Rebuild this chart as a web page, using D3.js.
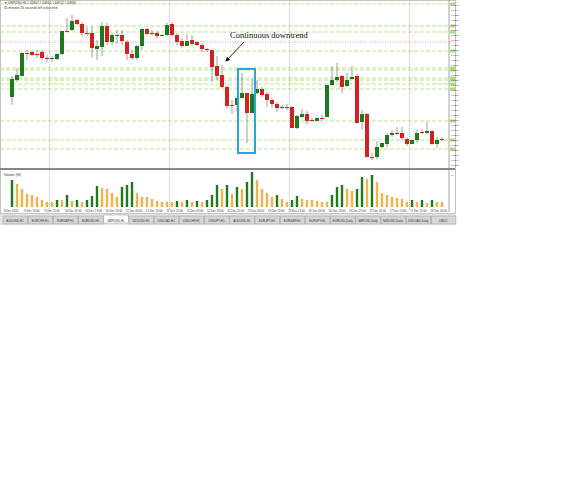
<!DOCTYPE html>
<html><head><meta charset="utf-8">
<script src="https://cdn.jsdelivr.net/npm/d3@7"></script>
<style>body{margin:0;background:#fff}</style></head>
<body><svg id="c" width="569" height="500"></svg>
<script>
const O=[6303,6320,6324,6347,6348,6346,6348,6342,6342,6341,6346,6369,6370,6380,6376,6367,6367,6351,6353,6374,6358,6365,6365,6358,6346,6342,6354,6371,6367,6367,6365,6365,6376,6365,6359,6354,6360,6358,6355,6351,6350,6334,6325,6313,6295,6295,6302,6307,6287,6307,6311,6306,6300,6296,6293,6293,6293,6272,6283,6286,6280,6279,6282,6283,6315,6320,6324,6314,6321,6324,6278,6286,6243,6243,6253,6256,6265,6267,6267,6261,6256,6260,6268,6267,6269,6256,6261];
const H=[6324,6332,6348,6350,6349,6350,6350,6345,6344,6347,6369,6382,6385,6381,6378,6373,6374,6360,6378,6377,6367,6370,6370,6360,6350,6355,6372,6372,6370,6369,6366,6377,6378,6367,6362,6366,6365,6359,6357,6352,6350,6344,6335,6314,6300,6303,6327,6307,6322,6320,6313,6308,6302,6298,6295,6296,6294,6285,6291,6289,6282,6282,6285,6315,6334,6337,6325,6327,6334,6326,6290,6287,6247,6259,6257,6267,6270,6273,6273,6263,6260,6270,6270,6278,6270,6263,6263];
const L=[6295,6318,6324,6340,6344,6342,6340,6338,6338,6340,6345,6368,6369,6375,6364,6364,6342,6340,6344,6355,6355,6356,6355,6340,6340,6340,6350,6365,6364,6362,6364,6364,6364,6355,6352,6354,6354,6354,6348,6348,6318,6320,6312,6292,6286,6288,6301,6257,6287,6306,6303,6293,6292,6288,6291,6290,6272,6271,6282,6276,6278,6279,6279,6283,6314,6318,6307,6313,6320,6277,6270,6243,6240,6241,6252,6253,6263,6265,6260,6254,6256,6257,6266,6266,6255,6252,6259];
const C=[6321,6325,6347,6346,6345,6345,6342,6341,6342,6346,6369,6368,6379,6376,6367,6366,6352,6354,6374,6358,6365,6364,6359,6346,6342,6354,6371,6366,6366,6364,6364,6375,6365,6358,6354,6359,6356,6355,6351,6350,6333,6324,6313,6294,6294,6302,6307,6287,6306,6311,6305,6300,6296,6292,6292,6293,6272,6284,6286,6279,6279,6282,6281,6315,6320,6323,6313,6320,6323,6277,6286,6243,6242,6253,6257,6265,6267,6266,6262,6256,6260,6267,6267,6269,6256,6260,6261];
const volume=[27,23,18,13,12,10,7,5,5,7,7,12,6,7,5,7,11,21,19,18,14,10,20,22,25,14,10,10,8,6,5,5,5,6,5,7,5,6,5,7,12,22,18,22,13,20,18,25,35,27,18,14,10,12,8,5,7,11,8,7,7,6,5,5,12,20,22,18,16,18,30,28,32,25,14,12,10,9,8,5,7,5,7,4,7,5,5];
const greenLevels=[1.6396,1.6374,1.6368,1.6349,1.6332,1.6330,1.6322,1.6320,1.6316,1.6311,1.6279,1.6260,1.6251];
const redLevels=[1.6358];
const separators=[8,32,56,80];
const timeLabels=["8 Dec 2013","9 Dec 13:00","9 Dec 21:00","10 Dec 05:00","10 Dec 13:00","10 Dec 21:00","11 Dec 05:00","11 Dec 13:00","11 Dec 21:00","12 Dec 05:00","12 Dec 13:00","12 Dec 21:00","13 Dec 05:00","13 Dec 13:00","13 Dec 21:00","16 Dec 05:00","16 Dec 13:00","16 Dec 21:00","17 Dec 05:00","17 Dec 13:00","17 Dec 21:00","18 Dec 05:00"];
const tabs=["AUDUSD,H1","EURCHF,H1","EURGBP,H1","EURUSD,H1","GBPUSD,H1","NZDUSD,H1","USDCAD,H1","USDCHF,H1","USDJPY,H1","AUDUSD,H1","EURJPY,H1","EURGBP,H1","EURJPY,H1","EURUSD,Daily","GBPUSD,Daily","NZDUSD,Daily","USDCAD,Daily","USDC"];

const svg=d3.select("#c");
const P=v=>1+v/10000;
const n=O.length;
const x=d3.scaleLinear().domain([0,n-1]).range([12,442]);
const y=d3.scaleLinear().domain([1.6232,1.6400]).range([168,0]);
const vy=d3.scaleLinear().domain([0,35]).range([207,172]);
const GREEN="#1f7a1f", RED="#d42020", ORANGE="#f2b24a";

svg.append("rect").attr("x",0.5).attr("y",0.5).attr("width",455).attr("height",213).attr("fill","#fff").attr("stroke","#999").attr("stroke-width",0.6);
svg.append("line").attr("x1",449).attr("x2",449).attr("y1",0).attr("y2",212).attr("stroke","#666").attr("stroke-width",0.6);
svg.selectAll(".gl").data(greenLevels).join("line").attr("x1",0).attr("x2",455).attr("y1",d=>y(d)).attr("y2",d=>y(d)).attr("stroke","#b7e88a").attr("stroke-width",1).attr("stroke-dasharray","4,2");
svg.selectAll(".rl").data(redLevels).join("line").attr("x1",0).attr("x2",455).attr("y1",d=>y(d)).attr("y2",d=>y(d)).attr("stroke","#e07070").attr("stroke-width",0.7).attr("stroke-dasharray","1,1.5");
svg.selectAll(".gt").data(greenLevels).join("rect").attr("x",450).attr("y",d=>y(d)-1.5).attr("width",5).attr("height",3).attr("fill","#a6e070");
svg.selectAll(".sep").data(separators).join("line").attr("x1",d=>x(d)-2.5).attr("x2",d=>x(d)-2.5).attr("y1",0).attr("y2",210).attr("stroke","#999").attr("stroke-width",0.6).attr("stroke-dasharray","1,1");
const ticks=d3.range(1.6235,1.6400,0.0005);
svg.selectAll(".pt").data(ticks).join("text").attr("x",451).attr("y",d=>y(d)+1).attr("font-size",2.5).attr("fill","#333").attr("font-family","Arial").text(d=>d.toFixed(4));
const g=svg.append("g");
d3.range(n).forEach(i=>{
  const up=C[i]>O[i], col=C[i]===O[i]?"#555":(up?GREEN:RED);
  g.append("line").attr("x1",x(i)).attr("x2",x(i)).attr("y1",y(P(H[i]))).attr("y2",y(P(L[i]))).attr("stroke","#777").attr("stroke-width",0.7);
  const top=y(P(Math.max(O[i],C[i]))), bot=y(P(Math.min(O[i],C[i])));
  g.append("rect").attr("x",x(i)-2).attr("y",top).attr("width",4).attr("height",Math.max(1,bot-top)).attr("fill",col);
});
svg.append("text").attr("x",4).attr("y",4).attr("font-size",3.2).attr("font-family","Arial").attr("fill","#333").text("▼ GBPUSD,H1  1.63607 1.63630 1.63622 1.63660");
svg.append("text").attr("x",4).attr("y",9).attr("font-size",3.2).attr("font-family","Arial").attr("fill","#333").text("31 minutes 16 seconds left to bar end");
svg.append("text").attr("x",230).attr("y",38).attr("font-size",8.5).attr("font-family","Liberation Serif, serif").attr("fill","#111").text("Continuous downtrend");
svg.append("defs").append("marker").attr("id","ah").attr("viewBox","0 0 10 10").attr("refX",8).attr("refY",5).attr("markerWidth",5).attr("markerHeight",5).attr("orient","auto").append("path").attr("d","M0,0L10,5L0,10z").attr("fill","#111");
svg.append("line").attr("x1",244).attr("y1",42).attr("x2",226).attr("y2",61).attr("stroke","#111").attr("stroke-width",0.9).attr("marker-end","url(#ah)");
svg.append("rect").attr("x",x(45)+1).attr("y",y(P(6331))).attr("width",x(48)+3-(x(45)+1)).attr("height",y(P(6247))-y(P(6331))).attr("fill","none").attr("stroke","#2aa7d8").attr("stroke-width",2);
svg.append("rect").attr("x",0).attr("y",168).attr("width",455).attr("height",2).attr("fill","#888");
svg.append("text").attr("x",4).attr("y",176).attr("font-size",3.2).attr("font-family","Arial").attr("fill","#333").text("Volume (96)");
svg.selectAll(".v").data(volume).join("rect").attr("x",(d,i)=>x(i)-1.2).attr("y",d=>vy(d)).attr("width",2.4).attr("height",d=>207-vy(d)).attr("fill",(d,i)=>i===0||d>volume[i-1]?GREEN:ORANGE);
svg.append("text").attr("x",451).attr("y",176).attr("font-size",2.5).attr("fill","#333").text("96");
svg.selectAll(".tl").data(timeLabels).join("text").attr("x",(d,i)=>4+i*20.3).attr("y",212).attr("font-size",2.8).attr("font-family","Arial").attr("fill","#333").text(d=>d);
svg.append("rect").attr("x",0).attr("y",214).attr("width",456).attr("height",11).attr("fill","#e6e6e6");
svg.selectAll(".tb").data(tabs).join("rect").attr("x",(d,i)=>3+i*25.2).attr("y",d=>d==="GBPUSD,H1"?215:216).attr("width",24.5).attr("height",8).attr("fill",d=>d==="GBPUSD,H1"?"#fff":"#d6d6d6").attr("stroke","#999").attr("stroke-width",0.5);
svg.selectAll(".tt").data(tabs).join("text").attr("x",(d,i)=>15+i*25.2).attr("y",221.5).attr("text-anchor","middle").attr("font-size",3).attr("font-family","Arial").attr("fill","#333").text(d=>d);
</script></body></html>
